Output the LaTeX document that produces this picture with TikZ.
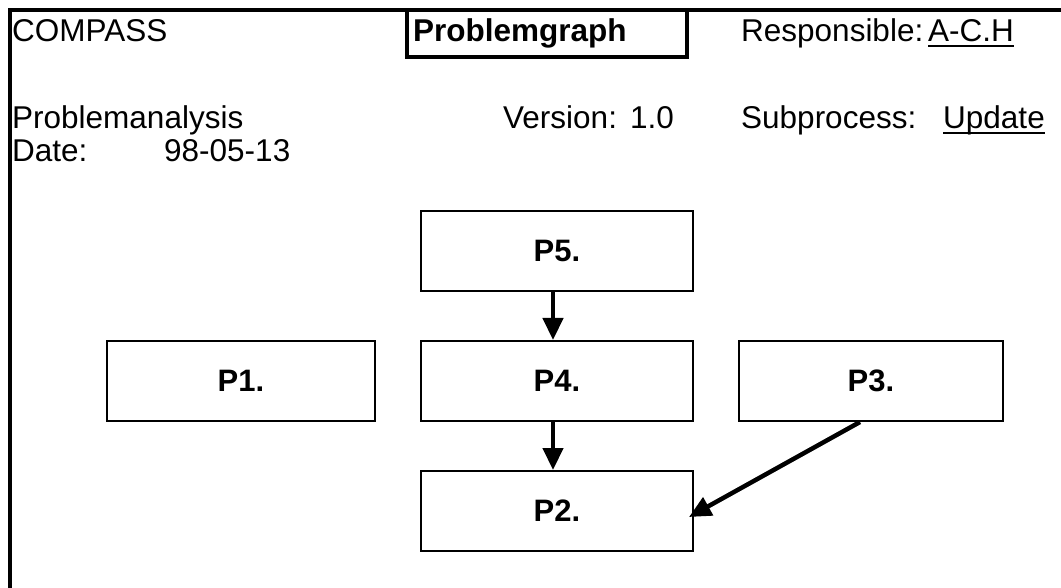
\documentclass[tikz,border=0pt]{standalone}
\usepackage{fontspec}
\setmainfont{Liberation Sans}
\usetikzlibrary{arrows.meta}
\begin{document}
\begin{tikzpicture}[x=1pt,y=-1pt,
  txt/.style={anchor=base west,inner sep=0pt,font=\fontsize{31.5}{38}\selectfont},
  btxt/.style={txt,font=\fontsize{31.5}{38}\selectfont\bfseries},
  pbox/.style={draw,line width=2pt,minimum height=80pt,inner sep=0pt,
    font=\fontsize{31}{38}\selectfont\bfseries},
  flow/.style={line width=4.5pt,-{Triangle[width=20pt,length=22pt]}},
  ul/.style={line width=2.2pt}]
\useasboundingbox (0,0) rectangle (1061,588);
% outer frame: top and left edges only
\draw[line width=4pt] (9.5,588) -- (9.5,10.5) -- (1061,10.5);
% title box
\draw[line width=3.5pt] (407,10.5) -- (407,57) -- (687,57) -- (687,10.5);
% header texts
\node[txt] (compass) at (12,42) {COMPASS};
\node[btxt] (title) at (413,42) {Problemgraph};
\node[txt] (resp) at (741,42) {Responsible:};
\node[txt] (respv) at (928,42) {A-C.H};
\node[txt] (pa) at (12,129) {Problemanalysis};
\node[txt] (ver) at (503,129) {Version:};
\node[txt] (verv) at (630,129) {1.0};
\node[txt] (sub) at (741,129) {Subprocess:};
\node[txt] (subv) at (943,129) {Update};
\node[txt] (date) at (12,162) {Date:};
\node[txt] (datev) at (164,162) {98-05-13};
% underlined field values
\draw[ul] ([yshift=-4pt]respv.base west) -- ([yshift=-4pt]respv.base east);
\draw[ul] ([yshift=-4pt]subv.base west) -- ([yshift=-4pt]subv.base east);
% problem boxes
\node[pbox,minimum width=272pt] (p5) at (557,251) {P5.};
\node[pbox,minimum width=272pt] (p4) at (557,381) {P4.};
\node[pbox,minimum width=268pt] (p1) at (241,381) {P1.};
\node[pbox,minimum width=264pt] (p3) at (871,381) {P3.};
\node[pbox,minimum width=272pt] (p2) at (557,511) {P2.};
% connectors
\draw[flow] ([xshift=-4pt]p5.south) -- ([xshift=-4pt]p4.north);
\draw[flow] ([xshift=-4pt]p4.south) -- ([xshift=-4pt]p2.north);
\draw[flow] ([xshift=-11pt]p3.south) -- ([xshift=-5pt,yshift=-6pt]p2.east);
\end{tikzpicture}
\end{document}
